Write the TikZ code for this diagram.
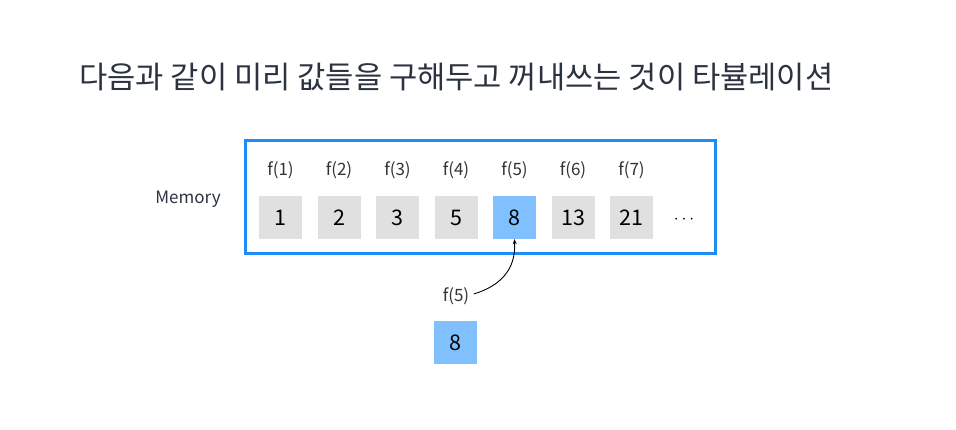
\documentclass[tikz,border=0pt]{standalone}
\usepackage{fontspec}
\usetikzlibrary{arrows.meta}
\setmainfont{Noto Sans CJK KR}
\definecolor{titlec}{HTML}{2B3340}
\definecolor{framec}{HTML}{1E8CF5}
\definecolor{cellg}{HTML}{E0E0E0}
\definecolor{cellb}{HTML}{80C0FF}
\begin{document}
\begin{tikzpicture}[x=1pt,y=-1pt,
  cell/.style={minimum width=43pt,minimum height=43pt,inner sep=0pt,fill=cellg,font=\fontsize{21.5}{21.5}\selectfont},
  hl/.style={cell,fill=cellb},
  lbl/.style={font=\fontsize{17}{17}\selectfont,text=black!80},
]
\useasboundingbox (0,0) rectangle (956,430);
\fill[white] (0,0) rectangle (956,430);
\node[anchor=base west,text=titlec,font=\fontsize{30.7}{30.7}\selectfont,inner sep=0pt] (title) at (79,89) {다음과 같이 미리 값들을 구해두고 꺼내쓰는 것이 타뷸레이션};
\draw[framec,line width=3pt] (245.5,141) rectangle (715.5,253.5);
\node[lbl,text=titlec] (mem) at (188,199) {Memory};
\foreach \i/\v/\s in {1/1/cell,2/2/cell,3/3/cell,4/5/cell,5/8/hl,6/13/cell,7/21/cell}{
  \node[\s] (c\i) at ({280.5+58.5*(\i-1)},217.5) {\v};
  \node[lbl] (l\i) at ({280.5+58.5*(\i-1)},170) {f(\i)};
}
\node[font=\fontsize{18}{18}\selectfont] (dots) at (684,220) {$\cdots$};
\node[lbl] (q) at (456,296) {f(5)};
\draw[-{Stealth[length=5pt,width=4pt]},line width=0.9pt] (q.east) ++(1,-2) coordinate (qs) .. controls (500,286) and (516,270) .. (c5.south);
\node[hl] (res) at (455.5,342.5) {8};
\end{tikzpicture}
\end{document}
